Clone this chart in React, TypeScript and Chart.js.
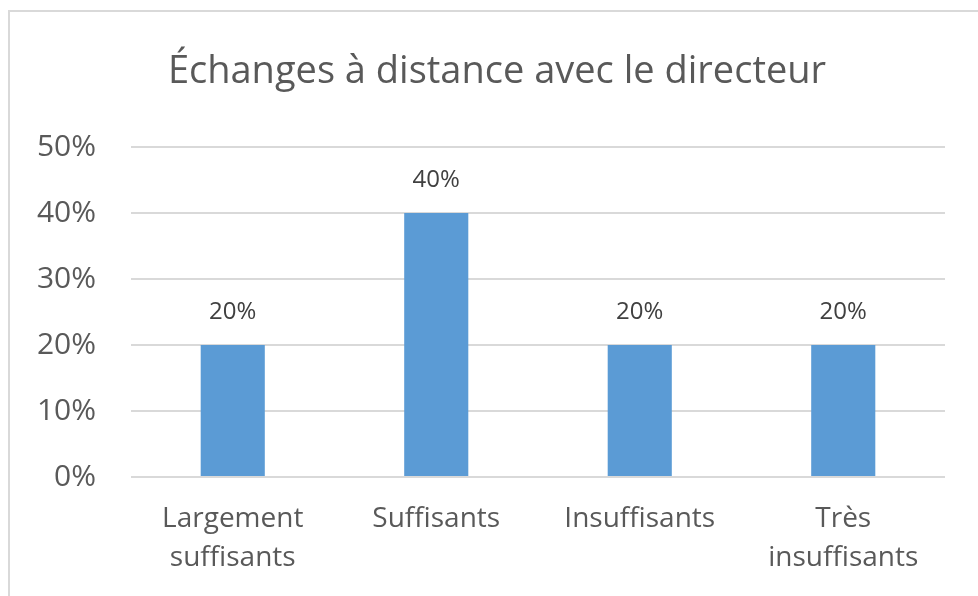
import React, { useEffect, useRef } from "react";
import { Chart, registerables } from "chart.js";

Chart.register(...registerables);

const titleText = "Échanges à distance avec le directeur";
const categories: (string | string[])[] = [
  ["Largement", "suffisants"],
  "Suffisants",
  "Insuffisants",
  ["Très", "insuffisants"],
];
const values = [20, 40, 20, 20];
const yTickMax = 50;
const yTickStep = 10;

const FONT = "'Open Sans', sans-serif";

const dataLabelPlugin = {
  id: "dataLabels",
  afterDatasetsDraw(chart: any) {
    const ctx = chart.ctx;
    const meta = chart.getDatasetMeta(0);
    ctx.save();
    ctx.fillStyle = "#404040";
    ctx.font = `24px ${FONT}`;
    ctx.textAlign = "center";
    ctx.textBaseline = "middle";
    meta.data.forEach((bar: any, i: number) => {
      ctx.fillText(values[i] + "%", bar.x, bar.y - 33);
    });
    ctx.restore();
  },
};

export default function App() {
  const ref = useRef<HTMLCanvasElement>(null);
  useEffect(() => {
    if (!ref.current) return;
    const chart = new Chart(ref.current, {
      type: "bar",
      data: {
        labels: categories,
        datasets: [
          {
            data: values,
            backgroundColor: "#5b9bd5",
            categoryPercentage: 1,
            barPercentage: 0.315,
          },
        ],
      },
      options: {
        animation: false,
        responsive: false,
        maintainAspectRatio: false,
        layout: { padding: { top: 49, left: 16, right: 0, bottom: 0 } },
        plugins: {
          legend: { display: false },
          tooltip: { enabled: false },
          title: {
            display: true,
            text: titleText,
            color: "#595959",
            font: { family: FONT, size: 38, weight: "normal", lineHeight: 1.2 },
            padding: { top: 0, bottom: 52.4 },
          },
        },
        scales: {
          x: {
            grid: { display: false, drawTicks: false },
            border: { display: false },
            ticks: {
              color: "#595959",
              font: { family: FONT, size: 28, lineHeight: 1.38 },
              padding: 23,
              maxRotation: 0,
              autoSkip: false,
            },
            afterFit(scale: any) {
              scale.height = 119;
            },
          },
          y: {
            min: 0,
            max: yTickMax,
            grid: { color: "#d9d9d9", lineWidth: 2, drawTicks: false },
            border: { display: false },
            ticks: {
              stepSize: yTickStep,
              color: "#595959",
              font: { family: FONT, size: 30 },
              padding: 35,
              callback: (v: any) => v + "%",
            },
            afterFit(scale: any) {
              scale.width = 115;
            },
          },
          yRight: {
            position: "right",
            min: 0,
            max: yTickMax,
            grid: { display: false, drawTicks: false },
            border: { display: false },
            ticks: { display: false },
            afterFit(scale: any) {
              scale.width = 33;
            },
          },
        },
      },
      plugins: [dataLabelPlugin],
    });
    return () => chart.destroy();
  }, []);

  return (
    <div style={{ position: "fixed", left: 0, top: 0, width: 978, height: 596, background: "#fff", overflow: "hidden" }}>
      <div
        style={{
          position: "absolute",
          left: 8,
          top: 10,
          width: 1000,
          height: 620,
          border: "2px solid #d9d9d9",
          boxSizing: "border-box",
        }}
      />
      <canvas ref={ref} width={978} height={596} style={{ position: "absolute", left: 0, top: 0 }} />
    </div>
  );
}
